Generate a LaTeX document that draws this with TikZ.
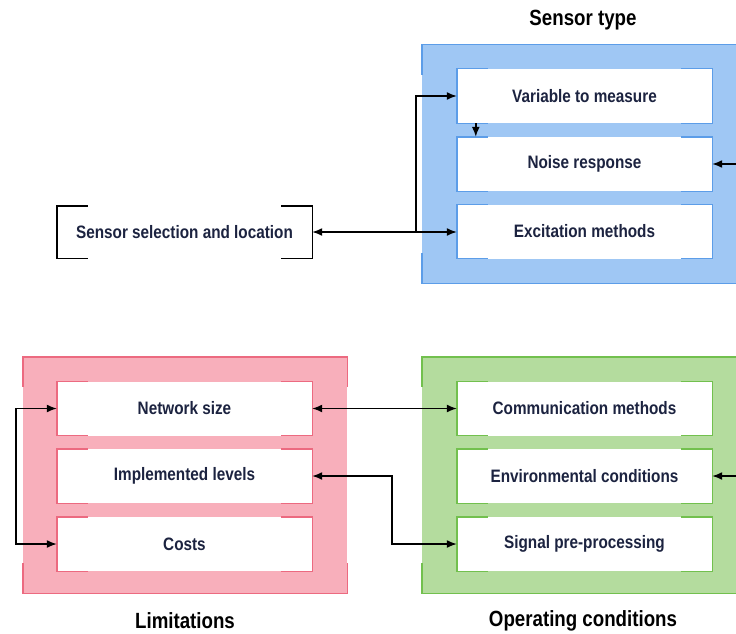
\documentclass[tikz,border=0pt]{standalone}
\usepackage{fontspec}
\usetikzlibrary{arrows.meta}
\newfontfamily\labelfont{Liberation Sans}[FakeStretch=0.85]

\definecolor{txt}{HTML}{1C2340}
\definecolor{bluefill}{HTML}{9FC7F4}
\definecolor{blueline}{HTML}{5C9DE8}
\definecolor{pinkfill}{HTML}{F8AFBB}
\definecolor{pinkline}{HTML}{EC6A80}
\definecolor{greenfill}{HTML}{B4DC9E}
\definecolor{greenline}{HTML}{72C04E}

% inner box: full vertical sides, only corner stubs on top and bottom
\newcommand\stubframe[2]{%
  \draw[#2] ([xshift=31pt]#1.north west) -- (#1.north west) -- (#1.south west) -- ([xshift=31pt]#1.south west);
  \draw[#2] ([xshift=-31pt]#1.north east) -- (#1.north east) -- (#1.south east) -- ([xshift=-31pt]#1.south east);
}
% outer panel: full top and bottom, only corner stubs on the sides
\newcommand\panelframe[2]{%
  \draw[#2] ([yshift=-30pt]#1.north west) -- (#1.north west) -- (#1.north east) -- ([yshift=-30pt]#1.north east);
  \draw[#2] ([yshift=30pt]#1.south west) -- (#1.south west) -- (#1.south east) -- ([yshift=30pt]#1.south east);
}

\begin{document}
\begin{tikzpicture}[x=1pt,y=-1pt,
  item/.style={rectangle, fill=white, inner sep=0pt, minimum width=255pt, minimum height=54pt,
    font=\labelfont\bfseries\fontsize{18}{20}\selectfont, text=txt},
  panel/.style={rectangle, inner sep=0pt},
  title/.style={font=\labelfont\bfseries\fontsize{22}{26}\selectfont, text=black},
  link/.style={line width=1.5pt, black, {Latex[length=10pt,width=8pt]}-{Latex[length=10pt,width=8pt]}},
  onelink/.style={line width=1.5pt, black, -{Latex[length=10pt,width=8pt]}},
  edge/.style={line width=1.4pt}
]
\useasboundingbox (0,0) rectangle (736,634);
\clip (0,0) rectangle (736,634);
\fill[white] (0,0) rectangle (736,634);

% panels
\node[panel, fill=bluefill, minimum width=338pt, minimum height=238pt] (sensorpanel) at (591,164) {};
\node[panel, fill=pinkfill, minimum width=324pt, minimum height=236pt] (limitpanel) at (185,475) {};
\node[panel, fill=greenfill, minimum width=338pt, minimum height=236pt] (oppanel) at (591,475) {};
\panelframe{sensorpanel}{edge, blueline}
\panelframe{limitpanel}{edge, pinkline}
\panelframe{oppanel}{edge, greenline}

% titles
\node[title] (ttype) at (583,20) {Sensor type};
\node[title] (tlimit) at (185,621) {Limitations};
\node[title] (top) at (583,621) {Operating conditions};

% sensor type items
\node[item] (var) at (584.5,96) {Variable to measure};
\node[item] (noise) at (584.5,164) {Noise response};
\node[item] (exc) at (584.5,231.5) {Excitation methods};
\stubframe{var}{edge, blueline}
\stubframe{noise}{edge, blueline}
\stubframe{exc}{edge, blueline}

% limitations items
\node[item] (net) at (184.5,408.5) {Network size};
\node[item] (impl) at (184.5,476) {Implemented levels};
\node[item] (cost) at (184.5,544) {Costs};
\stubframe{net}{edge, pinkline}
\stubframe{impl}{edge, pinkline}
\stubframe{cost}{edge, pinkline}

% operating conditions items
\node[item] (comm) at (584.5,408.5) {Communication methods};
\node[item] (env) at (584.5,476) {Environmental conditions};
\node[item] (sig) at (584.5,544) {Signal pre-processing};
\stubframe{comm}{edge, greenline}
\stubframe{env}{edge, greenline}
\stubframe{sig}{edge, greenline}

% sensor selection bracket box
\node[item, fill=none, minimum height=52pt] (sel) at (184.5,232) {Sensor selection and location};
\stubframe{sel}{edge, black}

% connectors
\coordinate (split) at (416,232);
\coordinate (noisein) at (745,164);
\coordinate (envin) at (745,476);
\draw[link] (sel.east) -- (sel.east -| exc.west);
\draw[onelink] (split) |- (var.west);
\draw[onelink] ([xshift=19pt]var.south west) -- ([xshift=19pt]noise.north west);
\draw[onelink] (noisein) -- (noise.east);
\draw[link] (net.east) -- (comm.west);
\draw[link] (impl.east) -- ([xshift=80pt]impl.east) |- (sig.west);
\draw[onelink] (envin) -- (env.east);
\draw[link] (net.west) -- ++(-41,0) |- (cost.west);
\end{tikzpicture}
\end{document}
